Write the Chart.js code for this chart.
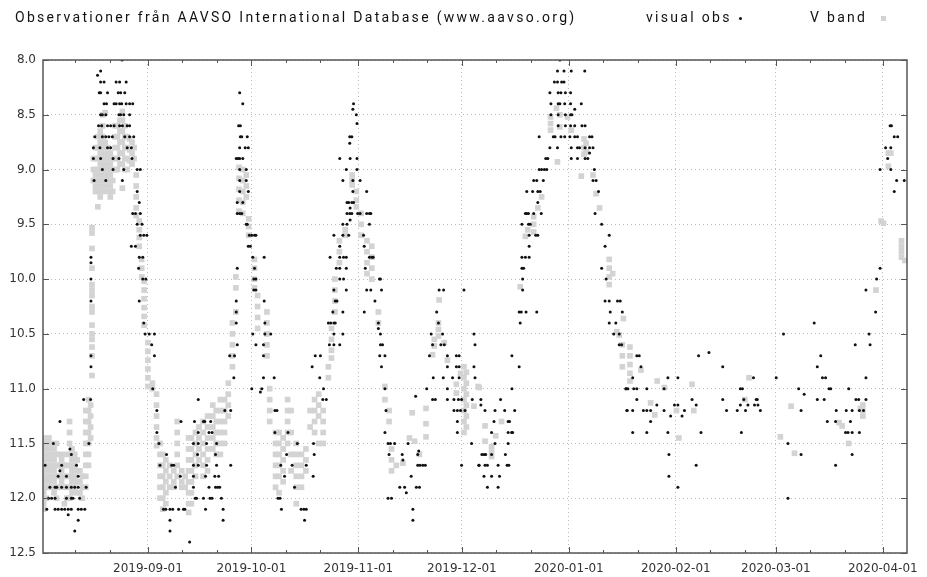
<!DOCTYPE html>
<html>
<head>
<meta charset="utf-8">
<script src="https://cdn.jsdelivr.net/npm/chart.js@4.4.1/dist/chart.umd.min.js"></script>
<style>
  body { margin: 0; background: #fff; }
  #wrap { position: relative; width: 927px; height: 577px; }
  .lbl { position: absolute; top: 9px; font-family: Roboto, "DejaVu Sans", sans-serif; font-size: 14px; letter-spacing: 2.3px; color: #111; white-space: nowrap; }
  #dot { position: absolute; left: 739px; top: 17px; width: 3px; height: 3px; border-radius: 50%; background: #111; }
  #sq { position: absolute; left: 881px; top: 16px; width: 5px; height: 5px; background: #d3d3d3; }
</style>
</head>
<body>
<div id="wrap">
  <canvas id="myChart" width="927" height="577"></canvas>
  <div class="lbl" style="left:15px">Observationer från AAVSO International Database (www.aavso.org)</div>
  <div class="lbl" style="left:646px">visual obs</div>
  <div id="dot"></div>
  <div class="lbl" style="left:810px">V band</div>
  <div id="sq"></div>
</div>
<script>
// x = days since 2019-08-01, y = magnitude
const xMin = 0.6;
const xMax = 251;
const monthTicks = [31, 61, 92, 122, 153, 184, 213, 244];
const monthLabels = ["2019-09-01", "2019-10-01", "2019-11-01", "2019-12-01", "2020-01-01", "2020-02-01", "2020-03-01", "2020-04-01"];
const minorTicks = [10, 20, 41, 51, 71, 81, 102, 112, 132, 142, 163, 173, 194, 204, 223, 233];
const magTicks = [8.0, 8.5, 9.0, 9.5, 10.0, 10.5, 11.0, 11.5, 12.0, 12.5];

// visual obs: [mag, [days]]
const visualAug = [
  [11.1, [12.4, 14.4]], [11.3, [5.5]], [11.5, [3.6, 13.9]], [11.55, [8.4]], [11.6, [8.8]],
  [11.7, [1.2, 6.0, 10.3]], [11.75, [5.5]], [11.8, [5.0, 7.4, 10.8]],
  [11.9, [2.6, 4.1, 4.6, 6.0, 7.4, 8.8, 9.8, 10.8, 13.1]],
  [12.0, [2.2, 3.1, 4.1, 7.4, 8.8, 9.3, 11.2]],
  [12.1, [1.7, 4.1, 5.0, 6.0, 6.9, 7.9, 8.8, 10.8, 11.7, 12.7]],
  [12.15, [7.9]], [12.2, [10.8]], [12.3, [9.8]],
  [9.8, [14.5]], [9.85, [14.5]], [10.0, [14.5]], [10.2, [14.5]], [10.7, [14.5]], [10.8, [14.5]]
];
const visualSep = [
  [8.0, [23.5]], [8.1, [17.3]], [8.14, [16.4]],
  [8.2, [17.3, 18.3, 21.8, 22.8, 24.7]],
  [8.3, [16.9, 17.3, 19.3, 22.4, 23.1, 24.3]],
  [8.4, [18.3, 19.0, 21.2, 21.8, 22.8, 23.4, 24.7, 25.7, 26.6]],
  [8.5, [17.3, 17.8, 18.8, 22.6, 23.1, 24.0, 25.7]],
  [8.6, [16.7, 17.6, 19.3, 20.2, 21.2, 22.8, 23.6, 25.0, 25.7]],
  [8.7, [15.6, 17.8, 18.8, 19.7, 20.7, 24.3, 25.7, 26.9]],
  [8.8, [15.2, 17.1, 19.3, 20.2, 25.0, 26.2]],
  [8.9, [15.2, 17.3, 20.9, 22.6, 26.4]],
  [9.0, [17.8, 20.9, 24.0, 27.9, 28.8]],
  [9.1, [15.4, 18.8, 23.6]], [9.2, [27.9]], [9.3, [28.5]], [9.4, [26.6, 27.4, 28.8]],
  [9.5, [27.9, 29.3]], [9.6, [28.8, 29.8, 30.7]], [9.7, [26.2, 27.4]], [9.8, [28.5, 29.5]],
  [9.9, [28.3]], [10.0, [29.5, 30.4]], [10.2, [28.5]], [10.4, [29.8]],
  [10.5, [30.2, 31.4, 32.9]], [10.6, [32.1]], [10.7, [32.9]], [11.0, [32.4]], [11.1, [45.6]],
  [11.2, [33.6, 53.3, 55.0]],
  [11.3, [40.6, 44.5, 47.1, 47.5, 49.2]],
  [11.4, [33.6, 45.6, 48.7, 49.6]],
  [11.5, [34.2, 44.2, 45.6, 48.0, 50.9]],
  [11.6, [36.4, 45.4, 50.6]],
  [11.7, [34.5, 37.9, 38.5, 44.2, 45.6, 48.0, 50.9, 55.0]],
  [11.8, [40.4, 44.2, 47.7, 50.4, 51.5]],
  [11.9, [39.0, 44.2, 48.7, 50.6, 51.2, 51.8]],
  [12.0, [44.7, 45.1, 47.1, 49.0, 49.6, 52.3]],
  [12.1, [35.5, 36.2, 37.4, 38.2, 39.9, 41.3, 41.7, 47.7, 52.8]],
  [12.2, [37.4, 52.8]], [12.3, [37.4]], [12.4, [43.1]]
];
const visualOct = [
  [8.3, [57.6]], [8.4, [58.5]], [8.6, [57.3, 57.8]], [8.7, [57.8, 58.2, 59.8]],
  [8.8, [57.6, 59.2, 60.1]], [8.9, [56.6, 57.1, 57.6, 58.5]], [9.0, [57.6, 59.5]],
  [9.1, [57.6, 59.5]], [9.2, [57.6, 60.1]], [9.3, [56.9, 58.5]], [9.4, [56.9, 57.6, 58.2]],
  [9.5, [59.5, 59.8]], [9.6, [60.4, 61.1, 61.9, 62.3]], [9.7, [60.1, 60.7]],
  [9.8, [61.4, 64.7, 83.8]], [9.9, [56.9, 61.9]], [10.0, [61.7, 62.3]], [10.1, [61.7, 62.3]],
  [10.2, [56.6, 64.7]], [10.3, [56.6, 84.6]], [10.4, [56.6, 64.9, 83.3, 84.0]],
  [10.5, [61.4, 64.9, 66.6]], [10.6, [56.9, 62.3, 64.5, 83.6]],
  [10.7, [54.7, 56.1, 64.5, 79.5, 81.0]], [10.8, [78.6]], [10.9, [55.9, 64.5, 67.6, 80.8]],
  [11.0, [61.1, 64.0, 81.9]], [11.03, [63.6]], [11.1, [81.7, 82.7]], [11.2, [67.8, 68.4]],
  [11.4, [67.8, 71.6]], [11.5, [74.3, 79.0]], [11.6, [71.2, 79.2]], [11.7, [69.5, 72.8, 76.9]],
  [11.8, [70.6, 78.9]], [11.9, [73.5]], [12.0, [68.7, 69.3]], [12.1, [69.7, 75.4, 76.2, 76.9]],
  [12.2, [76.4]]
];
const visualNov = [
  [8.4, [90.6]], [8.45, [90.4]], [8.5, [91.4]], [8.58, [91.6]], [8.7, [89.5, 90.1]], [8.76, [89.5]],
  [8.9, [86.6, 89.6, 91.6]], [9.0, [88.5, 91.6]], [9.1, [87.5, 90.4, 92.5]], [9.2, [90.4, 94.4]],
  [9.3, [88.7, 89.2, 90.1, 90.6]], [9.35, [89.6]],
  [9.4, [88.7, 89.5, 90.1, 91.8, 92.5, 94.4, 95.2, 95.6]], [9.46, [89.6]],
  [9.5, [87.5, 88.7, 95.2]], [9.6, [84.9, 87.5, 89.2, 93.5]], [9.7, [86.6, 93.7]],
  [9.8, [86.6, 87.7, 88.5, 95.2, 95.9, 96.3]], [9.9, [85.6, 86.6, 88.5, 94.0]],
  [10.0, [86.6, 87.7, 98.1, 98.4]],
  [10.1, [84.9, 88.5, 94.4, 95.6, 98.7, 115.4, 116.7, 122.6]],
  [10.2, [85.3, 85.8, 96.8]], [10.3, [87.5, 93.7, 114.7]], [10.4, [84.9, 85.3, 97.8, 115.2]],
  [10.45, [97.8]], [10.5, [84.9, 87.5, 98.4, 113.1, 116.4, 125.5]],
  [10.6, [84.9, 86.6, 98.4, 99.0, 113.5, 115.9, 116.9, 125.8]],
  [10.7, [98.2, 99.7, 112.6, 117.8, 120.4, 121.2]],
  [10.8, [98.7, 117.8, 120.4, 121.2, 125.5]],
  [10.9, [113.7, 116.6, 119.3, 121.2, 125.8]],
  [11.0, [99.7, 111.8, 117.8]], [11.07, [108.6]],
  [11.1, [113.5, 114.3, 117.8, 119.7, 121.0, 121.9, 125.0]],
  [11.2, [100.0, 119.7, 120.7, 121.6, 122.9]], [11.3, [120.7]], [11.4, [99.7, 120.7]],
  [11.5, [100.6, 101.3, 102.5, 106.4, 124.8]], [11.57, [109.5]],
  [11.6, [100.9, 104.7, 109.2]], [11.65, [104.9]],
  [11.7, [109.2, 109.9, 110.7, 111.4, 121.9, 126.9]], [11.8, [107.3]],
  [11.9, [104.0, 105.4, 108.8, 109.7]], [11.95, [105.9]], [12.0, [100.6, 101.6]],
  [12.1, [107.8]], [12.2, [107.8]]
];
const visualDec = [
  [8.0, [150.4]], [8.1, [149.7, 151.6, 153.7, 157.6]], [8.2, [148.8, 149.7, 150.9, 151.6]],
  [8.3, [147.5, 149.9, 150.7, 152.0, 153.5]], [8.4, [147.8, 149.9, 150.4, 151.8, 153.5, 156.6]],
  [8.45, [154.7]], [8.5, [147.8, 149.9, 152.0, 153.5, 153.9]],
  [8.6, [149.9, 152.0, 153.5, 154.7, 156.8, 157.7]],
  [8.7, [144.4, 148.5, 149.0, 150.7, 151.8, 153.3, 154.7, 155.5, 159.0, 159.7]],
  [8.8, [147.5, 149.7, 153.7, 155.5, 156.1, 157.7, 159.0, 160.0]], [8.85, [159.0]],
  [8.9, [146.3, 146.9, 153.7, 155.5, 157.7, 158.5]],
  [9.0, [144.4, 145.1, 145.9, 146.6, 160.4]], [9.1, [142.8, 143.7, 145.6, 160.0, 160.9]],
  [9.2, [140.8, 142.5, 144.0, 144.7, 161.6]], [9.3, [144.0]],
  [9.4, [140.4, 140.8, 141.3, 142.8, 145.0, 160.6]], [9.5, [139.4, 141.3, 141.8, 162.5]],
  [9.6, [141.5, 143.4, 144.0, 164.7]], [9.7, [141.5, 163.5]], [9.8, [139.4, 140.4, 141.5]],
  [9.9, [139.4, 139.9, 162.5]], [10.0, [139.6, 163.8]], [10.1, [139.6]],
  [10.2, [163.5, 164.7, 167.1, 167.9]], [10.3, [138.6, 139.2, 140.6, 143.7, 165.0, 168.5]],
  [10.4, [138.9, 164.7, 166.6]], [10.5, [166.0, 167.6]], [10.6, [167.6, 168.3]],
  [10.7, [136.5]], [10.8, [138.6]], [11.0, [136.5, 169.5]], [11.1, [127.5, 133.2]],
  [11.15, [127.5]], [11.2, [128.7, 131.6, 134.4, 137.3, 169.8]], [11.3, [131.3, 135.4, 135.8]],
  [11.4, [130.6, 135.4, 136.4, 136.7]], [11.5, [131.6, 135.4]],
  [11.6, [127.8, 128.4, 128.9, 130.6, 134.6]], [11.7, [127.0, 128.7, 129.4, 132.5, 135.1, 135.6]],
  [11.8, [128.4, 130.6, 132.9]], [11.9, [129.4, 132.5]]
];
const visualFeb = [
  [10.67, [193.6]], [10.7, [172.7, 173.4, 190.6]], [10.8, [173.9, 197.6]],
  [10.9, [171.5, 181.7, 184.6, 206.5]],
  [11.0, [169.6, 170.1, 171.8, 172.7, 175.6, 180.6, 202.7, 203.3]],
  [11.1, [172.7, 188.7, 197.6, 203.7, 207.3, 207.6]],
  [11.15, [178.5, 183.6, 184.6, 189.9, 202.7, 204.9, 206.8, 207.8]],
  [11.2, [169.9, 171.5, 174.6, 175.6, 176.7, 180.6, 186.5, 198.7, 201.8, 204.2, 208.5]],
  [11.25, [182.5, 185.8]], [11.3, [176.7]], [11.4, [171.5, 175.6, 181.7, 191.3, 203.0]],
  [11.6, [182.0]], [11.7, [189.9]], [11.8, [182.0]], [11.9, [184.6]]
];
const visualMar = [
  [8.6, [246.1, 246.5]], [8.7, [247.3, 248.3]], [8.8, [244.8, 246.3]], [8.9, [245.4]],
  [9.0, [243.2, 246.3]], [9.1, [248.0, 250.2]], [9.2, [247.3]], [9.9, [243.2]], [10.0, [242.2]],
  [10.1, [239.1]], [10.3, [241.9]], [10.4, [224.1]], [10.5, [215.2, 240.0]], [10.6, [236.0, 240.3]],
  [10.7, [226.0]], [10.8, [225.0]], [10.9, [213.1, 226.5, 227.4, 239.1]],
  [11.0, [219.6, 228.4, 228.9, 234.1]], [11.05, [221.2]],
  [11.1, [225.0, 227.0, 236.2, 237.0, 239.1]], [11.2, [220.3, 230.5, 233.4, 235.1, 237.2, 238.4]],
  [11.3, [227.9, 230.3, 234.6]], [11.4, [233.2, 233.9, 235.1, 237.2]], [11.5, [216.5]],
  [11.6, [220.3, 235.1]], [11.7, [230.3]], [12.0, [216.5]]
];

// V band: [day, [mags]]
const vBandAug = [
  [0.8, [11.45, 11.55, 11.65, 11.75, 11.85, 11.95, 12.05, 12.1]],
  [1.5, [11.5, 11.6, 11.7, 11.8, 11.9, 12.0]], [2.3, [11.45, 11.55, 11.65, 11.75, 11.85]],
  [3.0, [11.5, 11.6, 11.7, 11.8, 11.9]], [3.8, [11.55, 11.65, 11.75, 11.85, 11.95]],
  [4.5, [11.5, 11.6, 11.7, 11.8, 11.9, 12.0]], [5.3, [11.6, 11.7, 11.8, 11.9]],
  [6.0, [11.65, 11.75, 11.85]], [6.8, [11.6, 11.7, 11.8, 11.9, 12.05]],
  [7.5, [11.7, 11.8, 11.9, 12.0]], [8.3, [11.3, 11.4, 11.5, 11.6, 11.7, 11.8, 11.9, 12.0]],
  [9.0, [11.55, 11.65, 11.75, 11.85, 11.95]], [9.8, [11.6, 11.7, 11.8, 11.9]],
  [10.5, [11.65, 11.75, 11.85, 11.95]], [11.3, [11.75, 11.85, 11.95]], [12.0, [11.8, 11.9, 12.0]],
  [13.0, [11.2, 11.3, 11.4, 11.5, 11.6, 11.7, 11.8, 11.9]],
  [13.8, [11.1, 11.2, 11.3, 11.4, 11.5, 11.6, 11.7]], [14.4, [11.15, 11.25, 11.35, 11.45]],
  [14.8, [9.53, 9.58, 9.72, 9.9, 10.05, 10.1, 10.15, 10.25, 10.3, 10.42, 10.5, 10.55, 10.62, 10.7, 10.88]]
];
const vBandSep = [
  [15.2, [8.9, 9.0, 9.1]], [15.8, [8.8, 8.9, 9.0, 9.05, 9.15, 9.2]],
  [16.5, [8.7, 8.8, 8.9, 9.0, 9.1, 9.2, 9.34]], [17.2, [8.65, 8.75, 8.85, 8.95, 9.05, 9.15, 9.25]],
  [17.9, [8.5, 8.6, 8.7, 8.8, 8.9, 9.0, 9.1, 9.2]], [18.6, [8.48, 8.75, 8.85, 8.95, 9.05, 9.15]],
  [19.4, [8.8, 8.9, 9.0, 9.1, 9.2]], [20.1, [8.85, 8.95, 9.05, 9.15, 9.25]],
  [20.8, [8.9, 9.0, 9.1, 9.2]], [21.5, [8.6, 8.7, 8.8, 8.9, 9.0]], [22.2, [8.6, 8.7, 8.8, 8.9, 9.0]],
  [22.9, [8.55, 8.65, 8.75, 8.85, 8.95]], [23.6, [8.47, 8.55, 8.65, 8.75, 8.85, 8.95, 9.17]],
  [24.3, [8.6, 8.7, 8.8, 8.9, 9.0]], [25.0, [8.7, 8.8, 8.9, 9.0]], [25.7, [8.72, 8.82, 8.92]],
  [26.4, [8.75, 8.85, 8.95]], [27.0, [8.8, 8.9]], [27.6, [9.05, 9.15, 9.25, 9.35, 9.42]],
  [28.5, [9.47, 9.55, 9.62, 9.7]], [29.2, [9.82, 9.9, 9.98]],
  [29.9, [10.02, 10.1, 10.18, 10.26, 10.34, 10.42]], [31.0, [10.58, 10.66, 10.74, 10.82, 10.9, 10.98]],
  [32.3, [10.95, 11.0]], [33.5, [11.05, 11.15, 11.25, 11.35, 11.45, 11.52]],
  [34.5, [11.5, 11.6, 11.7, 11.8, 11.9, 12.0]], [35.3, [11.6, 11.7, 11.8, 11.9, 12.0, 12.1]],
  [36.2, [11.65, 11.75, 11.85, 11.95, 12.05]], [37.3, [11.7, 11.8, 11.9]], [38.5, [11.75, 11.85, 11.9]],
  [39.5, [11.3, 11.4, 11.5, 11.6, 11.7, 11.8]], [40.8, [11.75, 11.85, 11.9]], [41.8, [11.8, 11.9]],
  [42.8, [11.45, 11.55, 11.65, 11.75, 11.85, 11.95, 12.05, 12.13]],
  [43.6, [11.45, 11.55, 11.65, 11.75, 11.85, 11.95, 12.05]], [44.8, [11.4, 11.5, 11.6, 11.7, 11.8]],
  [45.8, [11.35, 11.45, 11.55, 11.65]], [47.0, [11.3, 11.4, 11.5, 11.6, 11.7, 11.8]],
  [48.3, [11.25, 11.35, 11.45, 11.55, 11.65, 11.75]], [49.8, [11.15, 11.25, 11.35, 11.45, 11.55]],
  [50.8, [11.2, 11.3, 11.4, 11.5, 11.6]], [52.0, [11.1, 11.2, 11.3, 11.4, 11.5, 11.6]],
  [53.2, [11.1, 11.2, 11.3, 11.4, 11.5]], [54.3, [10.95, 11.05, 11.15, 11.25]]
];
const vBandOct = [
  [55.5, [10.4, 10.5, 10.6, 10.7, 10.8]], [56.5, [9.98, 10.08, 10.3]],
  [57.4, [8.98, 9.08, 9.18, 9.28, 9.38]], [58.5, [9.0, 9.1, 9.2, 9.3, 9.4]], [59.5, [9.05, 9.15, 9.25]],
  [60.2, [9.45, 9.52, 9.6]], [61.9, [9.82, 9.9, 10.0, 10.08]], [62.8, [10.15, 10.25, 10.35, 10.45]],
  [65.5, [10.3, 10.4, 10.5, 10.6, 10.7]], [66.3, [11.0, 11.1, 11.2, 11.3]],
  [68.0, [11.4, 11.5, 11.6, 11.7, 11.8, 11.9]], [69.0, [11.4, 11.5, 11.6, 11.7, 11.8, 11.95]],
  [70.2, [11.45, 11.55, 11.65, 11.75, 11.85]], [71.5, [11.1, 11.2, 11.3, 11.4, 11.5]],
  [72.5, [11.2, 11.4, 11.6, 11.75]], [74.0, [11.5, 11.6, 11.7, 11.8, 11.9, 12.05]],
  [75.5, [11.6, 11.7, 11.8, 11.9]], [76.8, [11.55, 11.65, 11.75]], [78.0, [11.2, 11.35]],
  [79.3, [11.1, 11.2, 11.3, 11.4]], [80.5, [11.05, 11.15, 11.25, 11.5]], [81.8, [11.2, 11.3, 11.4, 11.5]],
  [83.3, [10.8, 10.9]], [84.2, [10.45, 10.55, 10.65, 10.72]], [85.2, [10.0, 10.1, 10.2, 10.3]]
];
const vBandNov = [
  [86.5, [9.65, 9.75, 9.85]], [88.2, [9.55, 9.6]], [90.2, [9.05, 9.1, 9.14]], [91.4, [9.2, 9.28, 9.34]],
  [92.8, [9.4, 9.5, 9.6]], [94.5, [9.65, 9.75, 9.85, 9.95]], [95.9, [9.7, 9.8, 9.9, 10.0]],
  [97.8, [10.3, 10.4]], [99.7, [10.98, 11.1]], [100.9, [11.2, 11.3]], [101.6, [11.55, 11.65, 11.75]],
  [103.0, [11.7]], [104.9, [11.68]], [106.8, [11.45]], [107.6, [11.22]], [108.3, [11.48]],
  [109.7, [11.6]], [111.6, [11.18, 11.32, 11.44]], [113.5, [10.69]], [114.0, [10.55, 10.61]],
  [115.2, [10.4, 10.46, 10.52]], [115.4, [10.19]], [116.9, [10.58]], [117.8, [10.74]],
  [120.4, [10.96, 11.04]], [121.6, [10.86]], [122.6, [10.8, 10.9, 11.0, 11.1, 11.2, 11.3, 11.4]],
  [123.3, [10.85, 10.95, 11.05, 11.15, 11.25, 11.35]], [125.5, [11.16]], [126.7, [10.98]]
];
const vBandDec = [
  [127.0, [10.99]], [128.7, [11.34, 11.48]], [130.6, [11.53, 11.58, 11.62]], [131.8, [11.43]],
  [133.5, [11.3]], [138.9, [10.07]], [140.4, [9.61]], [141.1, [9.55]], [142.8, [9.43, 9.5, 9.57]],
  [144.0, [9.35]], [145.1, [9.25]], [147.7, [8.52, 8.58, 8.64]], [149.4, [8.44]], [149.7, [8.93]],
  [150.4, [8.5, 8.61]], [152.6, [8.52]], [153.7, [8.64]], [156.6, [9.06]], [157.4, [8.72, 8.8, 8.86]],
  [158.0, [8.76, 8.84]], [160.0, [9.05]], [160.9, [9.22]], [161.9, [9.35]],
  [164.7, [9.82, 9.9, 9.98, 10.05]], [165.7, [9.95]], [166.9, [10.48]], [167.6, [10.51]],
  [168.5, [10.6, 10.7, 10.8]], [168.8, [10.36]]
];
const vBandFeb = [
  [170.7, [10.62, 10.7, 10.78, 10.86, 10.93]], [173.9, [10.83]], [176.7, [11.13]], [177.9, [11.24]],
  [178.6, [10.93]], [180.7, [10.99]], [184.2, [11.2]], [184.9, [11.45]], [188.7, [10.96]],
  [189.2, [11.2]], [204.0, [11.1]], [205.2, [10.9]]
];
const vBandMar = [
  [214.3, [11.44]], [217.4, [11.16]], [218.4, [11.59]], [231.3, [11.31]], [232.2, [11.34]],
  [234.1, [11.5]], [237.5, [11.18]], [238.2, [11.15, 11.2, 11.25]], [242.0, [10.1]], [243.5, [9.47]],
  [244.2, [9.49]], [245.6, [8.85, 8.97]], [246.3, [8.85]], [249.4, [9.65, 9.7, 9.75, 9.8]],
  [250.4, [9.83]]
];

function fromMagRows(rows) {
  const pts = [];
  rows.forEach(([mag, days]) => days.forEach((d) => pts.push({ x: d, y: mag })));
  return pts;
}
function fromDayRows(rows) {
  const pts = [];
  rows.forEach(([d, mags]) => mags.forEach((m) => pts.push({ x: d, y: m })));
  return pts;
}

const visualData = [visualAug, visualSep, visualOct, visualNov, visualDec, visualFeb, visualMar].flatMap(fromMagRows);
const vBandData = [vBandAug, vBandSep, vBandOct, vBandNov, vBandDec, vBandFeb, vBandMar].flatMap(fromDayRows);

const frameTicks = {
  id: "frameTicks",
  afterDraw(chart) {
    const ctx = chart.ctx;
    const a = chart.chartArea;
    const xs = chart.scales.x;
    const ys = chart.scales.y;
    ctx.save();
    ctx.strokeStyle = "#555";
    ctx.lineWidth = 1.5;
    ctx.strokeRect(a.left, a.top, a.right - a.left, a.bottom - a.top);
    ctx.lineWidth = 1;
    ctx.beginPath();
    monthTicks.forEach((d) => {
      const x = Math.round(xs.getPixelForValue(d)) + 0.5;
      ctx.moveTo(x, a.bottom); ctx.lineTo(x, a.bottom - 6);
      ctx.moveTo(x, a.top); ctx.lineTo(x, a.top + 6);
    });
    minorTicks.forEach((d) => {
      const x = Math.round(xs.getPixelForValue(d)) + 0.5;
      ctx.moveTo(x, a.bottom); ctx.lineTo(x, a.bottom - 3);
      ctx.moveTo(x, a.top); ctx.lineTo(x, a.top + 3);
    });
    magTicks.forEach((m) => {
      const y = Math.round(ys.getPixelForValue(m)) + 0.5;
      ctx.moveTo(a.left, y); ctx.lineTo(a.left + 6, y);
      ctx.moveTo(a.right, y); ctx.lineTo(a.right - 6, y);
    });
    ctx.stroke();
    ctx.restore();
  },
};

const ctx = document.getElementById("myChart").getContext("2d");
const myChart = new Chart(ctx, {
  type: "scatter",
  data: {
    datasets: [
      {
        label: "visual obs",
        data: visualData,
        pointStyle: "circle",
        pointRadius: 1.5,
        pointBorderWidth: 0,
        backgroundColor: "#111",
        order: 0,
      },
      {
        label: "V band",
        data: vBandData,
        pointStyle: "rect",
        pointRadius: 4,
        pointBorderWidth: 0,
        backgroundColor: "#d3d3d3",
        order: 1,
      },
    ],
  },
  options: {
    responsive: false,
    animation: false,
    layout: { padding: { left: 0, top: 60, right: 10, bottom: 0 } },
    scales: {
      x: {
        type: "linear",
        min: xMin,
        max: xMax,
        afterBuildTicks: (axis) => {
          axis.ticks = monthTicks.map((v) => ({ value: v }));
        },
        afterFit: (axis) => { axis.height = 24; },
        ticks: {
          autoSkip: false,
          maxRotation: 0,
          padding: 9,
          color: "#333",
          font: { family: "DejaVu Sans", size: 12 },
          callback: (v) => monthLabels[monthTicks.indexOf(v)],
        },
        grid: { color: "#bbb", drawTicks: false },
        border: { display: false, dash: [1, 3] },
      },
      y: {
        reverse: true,
        min: 8.0,
        max: 12.5,
        afterBuildTicks: (axis) => {
          axis.ticks = magTicks.map((v) => ({ value: v }));
        },
        afterFit: (axis) => { axis.width = 43; },
        ticks: {
          padding: 7,
          color: "#333",
          font: { family: "DejaVu Sans", size: 12 },
          callback: (v) => v.toFixed(1),
        },
        grid: { color: "#bbb", drawTicks: false },
        border: { display: false, dash: [1, 3] },
      },
    },
    plugins: {
      legend: { display: false },
      tooltip: { enabled: false },
    },
  },
  plugins: [frameTicks],
});
</script>
</body>
</html>
